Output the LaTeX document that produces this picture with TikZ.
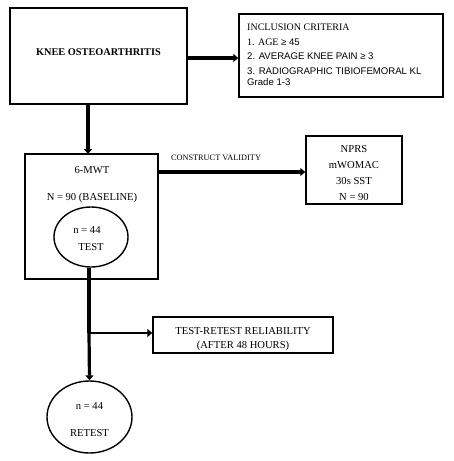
\documentclass[tikz,border=0pt]{standalone}
\usepackage{fontspec}
\setmainfont{Liberation Serif}
\newfontfamily\arialfont{Liberation Sans}
\usetikzlibrary{arrows.meta,shapes.geometric}
\begin{document}
\begin{tikzpicture}[x=1pt,y=-1pt,
  box/.style={draw,line width=1.4pt,inner sep=0pt},
  oval/.style={draw,line width=1.4pt,ellipse,inner sep=0pt},
  conn/.style={line width=3.2pt,-{Triangle[length=5pt,width=8pt]}},
  plain/.style={line width=3.2pt},
  txt/.style={font=\fontsize{10.6}{12}\selectfont,inner sep=0pt},
  crit/.style={inner sep=0pt,anchor=base west,font=\fontsize{10}{11}\selectfont},
  critsans/.style={inner sep=0pt,anchor=base west,font=\arialfont\fontsize{9.6}{11}\selectfont},
  ]
\useasboundingbox (0,0) rectangle (453,461);
% Knee OA box
\node[box,minimum width=177pt,minimum height=96pt] (koa) at (98.5,56) {};
\node[txt,font=\fontsize{10.3}{12}\selectfont\bfseries] (koat) at (98.5,52) {KNEE OSTEOARTHRITIS};
% Inclusion criteria box
\node[box,minimum width=204pt,minimum height=83pt] (inc) at (341,55.5) {};
\node[crit] (i1) at (247,30.5) {INCLUSION CRITERIA};
\node[crit] (i2) at (247,45) {1. AGE {\arialfont\fontsize{9.6}{11}\selectfont ≥ 45}};
\node[critsans] (i3) at (247,59) {2. AVERAGE KNEE PAIN ≥ 3};
\node[critsans] (i4) at (247,74) {3. RADIOGRAPHIC TIBIOFEMORAL KL};
\node[critsans] (i5) at (247,85) {Grade 1-3};
% 6-MWT box
\node[box,minimum width=133pt,minimum height=125pt] (mwt) at (91.5,216.5) {};
\node[txt] (m1) at (92,170) {6-MWT};
\node[txt] (m2) at (92,198) {N = 90 (BASELINE)};
\node[oval,minimum width=74pt,minimum height=60pt] (test) at (91,237) {};
\node[txt] (t1) at (87,230) {n = 44};
\node[txt] (t2) at (91,247) {TEST};
% NPRS box
\node[box,minimum width=96pt,minimum height=68pt] (nprs) at (354,170) {};
\node[txt] (n1) at (354,149) {NPRS};
\node[txt] (n2) at (354,165) {mWOMAC};
\node[txt] (n3) at (354,181) {30s SST};
\node[txt] (n4) at (354,197) {N = 90};
% Test-retest box
\node[box,minimum width=180pt,minimum height=36pt] (trr) at (243,335) {};
\node[txt] (r1) at (243,331) {TEST-RETEST RELIABILITY};
\node[txt] (r2) at (243,346) {(AFTER 48 HOURS)};
% Retest ellipse
\node[oval,minimum width=85pt,minimum height=72pt] (retest) at (89.5,417) {};
\node[txt] (rt1) at (89.5,406) {n = 44};
\node[txt] (rt2) at (89.5,433) {RETEST};
% connectors
\draw[conn] (koa.east |- 0,58) -- (inc.west |- 0,58);
\draw[conn] (88,104) -- (88,154);
\draw[conn] (mwt.east |- 0,172) -- (nprs.west |- 0,172);
\node[inner sep=0pt,font=\fontsize{8.3}{9}\selectfont] (cv) at (216,158) {CONSTRUCT VALIDITY};
\draw[plain] (test.south -| 89,0) -- (89,333);
\coordinate (br) at (89,333);
\draw[conn,line width=2.6pt] (br) -- (trr.west |- br);
\draw[conn] (br) -- (retest.north);
\end{tikzpicture}
\end{document}
